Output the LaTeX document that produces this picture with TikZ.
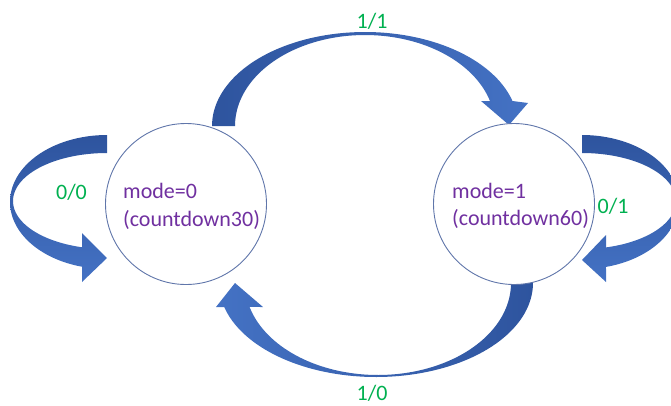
\documentclass[tikz,border=0pt]{standalone}
\usepackage{fontspec}
\setmainfont{Carlito}
\definecolor{arrdark}{RGB}{46,84,158}
\definecolor{arrlight}{RGB}{68,114,196}
\definecolor{circline}{RGB}{96,118,170}
\definecolor{statepurple}{RGB}{112,48,160}
\definecolor{labelgreen}{RGB}{0,176,80}
\tikzset{
  stateC/.style={circle, draw=circline, line width=0.9pt, fill=white,
    minimum size=161pt, inner sep=0pt},
  statetext/.style={anchor=base west, inner sep=0pt, text=statepurple,
    font=\fontsize{22}{28}\selectfont},
  lbl/.style={anchor=base, inner sep=0pt, text=labelgreen,
    font=\fontsize{22}{28}\selectfont},
}
\begin{document}
\begin{tikzpicture}[x=1pt, y=-1pt]
\useasboundingbox (0,0) rectangle (671,405);
\clip (0,0) rectangle (671,405);

% transition 1/1: curved band from state 0 over the top to state 1
\shade[left color=arrdark, right color=arrlight]
  plot[domain=180:344.58, samples=80] ({365+153*cos(\x)}, {126+94*sin(\x)})
  -- (528,103) -- (509,125) -- (481,101)
  -- plot[domain=344.05:180, samples=80] ({365+130*cos(\x)}, {126+91*sin(\x)})
  -- cycle;

% transition 1/0: curved band from state 1 under the bottom to state 0
\shade[left color=arrlight, right color=arrdark]
  plot[domain=-5:165.2, samples=80] ({376+157*cos(\x)}, {283+94*sin(\x)})
  -- (216,307) -- (235,283) -- (263,307)
  -- plot[domain=164.9:-5, samples=80] ({378+133*cos(\x)}, {283+92*sin(\x)})
  -- cycle;

% self loop 0/0 on state 0
\shade[top color=arrdark, bottom color=arrlight]
  plot[domain=270:104.9, samples=80] ({107+97*cos(\x)}, {202+67*sin(\x)})
  -- (82,282) -- (107,258) -- (82,233)
  -- plot[domain=105.4:270, samples=80] ({107+94*cos(\x)}, {201+48*sin(\x)})
  -- cycle;

% self loop 0/1 on state 1
\shade[top color=arrdark, bottom color=arrlight]
  plot[domain=270:435.68, samples=80] ({582+97*cos(\x)}, {202+67*sin(\x)})
  -- (606,282) -- (582,260) -- (606,235)
  -- plot[domain=435.21:270, samples=80] ({582+94*cos(\x)}, {201+48*sin(\x)})
  -- cycle;

% states
\node[stateC] (s0) at (186,204) {};
\node[stateC] (s1) at (514,204) {};

\node[statetext] (s0a) at (123,198) {mode=0};
\node[statetext] (s0b) at (123,226) {(countdown30)};
\node[statetext] (s1a) at (452,198) {mode=1};
\node[statetext] (s1b) at (452,225) {(countdown60)};

% transition labels
\node[lbl] (t11) at (372,28) {1/1};
\node[lbl] (t10) at (372,400) {1/0};
\node[lbl] (t00) at (71.5,199) {0/0};
\node[lbl] (t01) at (613,213) {0/1};
\end{tikzpicture}
\end{document}
